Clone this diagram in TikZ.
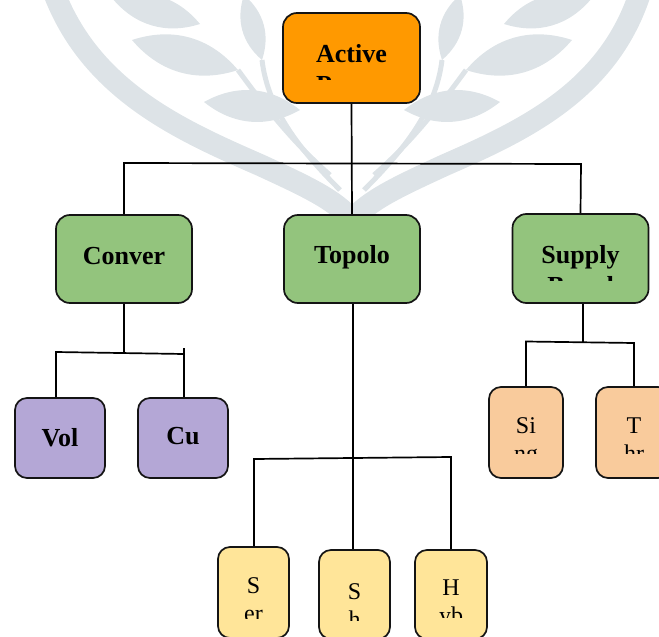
\documentclass[tikz,border=0pt]{standalone}
\usepackage{fontspec}
\setmainfont{Liberation Serif}
\definecolor{wmc}{HTML}{DDE3E7}
\definecolor{orA}{HTML}{FF9900}
\definecolor{grB}{HTML}{93C47D}
\definecolor{puC}{HTML}{B4A7D6}
\definecolor{peD}{HTML}{F9CB9C}
\definecolor{yeE}{HTML}{FFE599}
\newcommand\cliptext[8]{%
  \begin{scope}
    \clip (#1.north west) rectangle ([yshift=#2]#1.south east);
    \node[#8] at (#3,#4) {#5};
    \node[#8] at (#3,#6) {#7};
  \end{scope}}
\begin{document}
\begin{tikzpicture}[x=1pt,y=-1pt,
  bigbox/.style={draw=black!92, line width=1.7pt, rounded corners=14pt, inner sep=0pt,
    minimum width=136pt, minimum height=88pt},
  smallbox/.style={draw=black!92, line width=1.7pt, rounded corners=12pt, inner sep=0pt},
  conn/.style={line width=1.7pt, black},
  bl/.style={anchor=base, inner sep=0pt, font=\fontsize{26}{30}\selectfont\bfseries},
  rl/.style={anchor=base, inner sep=0pt, font=\fontsize{24}{28}\selectfont}]
\useasboundingbox (0,0) rectangle (659,637);
\clip (0,0) rectangle (659,637);
% ---------- watermark ----------
\draw[wmc, line width=22pt] (53,-10) .. controls (90,90) and (180,130) .. (260,165)
   .. controls (310,188) and (335,200) .. (352,220);
\draw[wmc, line width=22pt] (641,-10) .. controls (610,90) and (525,130) .. (445,165)
   .. controls (395,188) and (370,200) .. (352,220);
\foreach \ax/\ay/\bx/\by in {132/40/238/70, 204/102/300/110, 112/-2/200/24,
                   244/-5/262/60, 572/40/466/70, 500/102/404/110,
                   592/-2/504/24, 460/-5/442/60}
  \fill[wmc] (\ax,\ay) to[bend left=34] (\bx,\by) to[bend left=34] (\ax,\ay);
\draw[wmc, line width=5pt] (238,70) .. controls (260,100) and (290,140) .. (330,175);
\draw[wmc, line width=5pt] (466,70) .. controls (444,100) and (414,140) .. (374,175);
\draw[wmc, line width=5pt] (262,60) .. controls (268,110) and (300,150) .. (340,190);
\draw[wmc, line width=5pt] (442,60) .. controls (436,110) and (404,150) .. (364,190);
% ---------- boxes ----------
\node[bigbox, fill=orA, minimum width=137pt, minimum height=90pt] (act) at (351.5,58) {};
\node[bigbox, fill=grB] (conv) at (124,259) {};
\node[bigbox, fill=grB] (topo) at (352,259) {};
\node[bigbox, fill=grB, minimum height=89pt] (supp) at (580.5,258.5) {};
\node[smallbox, fill=puC, minimum width=90pt, minimum height=80pt] (vol) at (60,438) {};
\node[smallbox, fill=puC, minimum width=90pt, minimum height=80pt] (cur) at (183,438) {};
\node[smallbox, fill=peD, minimum width=74pt, minimum height=91pt] (sing) at (526,432.5) {};
\node[smallbox, fill=peD, minimum width=74pt, minimum height=91pt] (thr) at (633,432.5) {};
\node[smallbox, fill=yeE, minimum width=71pt, minimum height=91pt] (ser) at (253.5,592.5) {};
\node[smallbox, fill=yeE, minimum width=71pt, minimum height=89pt] (shu) at (354.5,594.5) {};
\node[smallbox, fill=yeE, minimum width=72pt, minimum height=89pt] (hyb) at (451,594.5) {};
% ---------- connectors ----------
\coordinate (bL) at (124,163);
\coordinate (bR) at (581,164);
\draw[conn] (act.south) -- (topo.north);
\draw[conn] (conv.north) -- (bL) -- (bR) -- (supp.north);
\coordinate (cB) at (124,353);
\coordinate (cL) at (56,352);
\coordinate (cR) at (184,354);
\coordinate (cRt) at (184,348);
\draw[conn] (conv.south) -- (cB);
\draw[conn] (cL |- vol.north) -- (cL) -- (cR);
\draw[conn] (cRt) -- (cRt |- cur.north);
\coordinate (sB) at (583,342);
\coordinate (sL) at (526,341.5);
\coordinate (sR) at (634,343);
\draw[conn] (sB |- supp.south) -- (sB);
\draw[conn] (sing.north) -- (sL) -- (sR) -- (sR |- thr.north);
\coordinate (tB) at (353,458);
\coordinate (tL) at (254,459);
\coordinate (tR) at (451,457);
\draw[conn] (tB |- topo.south) -- (tB |- shu.north);
\draw[conn] (tL |- ser.north) -- (tL) -- (tR) -- (hyb.north);
% ---------- texts (clipped like the source) ----------
\cliptext{act}{24pt}{351.5}{62}{Active}{93}{Power}{bl}
\cliptext{conv}{23pt}{124}{264}{Conver}{296}{ter}{bl}
\cliptext{topo}{27pt}{352}{263}{Topolo}{293}{gy}{bl}
\cliptext{supp}{23pt}{580.5}{263}{Supply}{294}{Based}{bl}
\cliptext{vol}{22pt}{60}{446}{Vol}{477}{tage}{bl}
\cliptext{cur}{22pt}{183}{444}{Cu}{475}{rrent}{bl}
\cliptext{sing}{25pt}{526}{433}{Si}{461}{ng}{rl}
\cliptext{thr}{25pt}{634}{433}{T}{461}{hr}{rl}
\cliptext{ser}{20pt}{253.5}{593}{S}{621}{er}{rl}
\cliptext{shu}{19pt}{354.5}{599}{S}{627}{h}{rl}
\cliptext{hyb}{22pt}{451}{595}{H}{623}{yb}{rl}
\end{tikzpicture}
\end{document}
